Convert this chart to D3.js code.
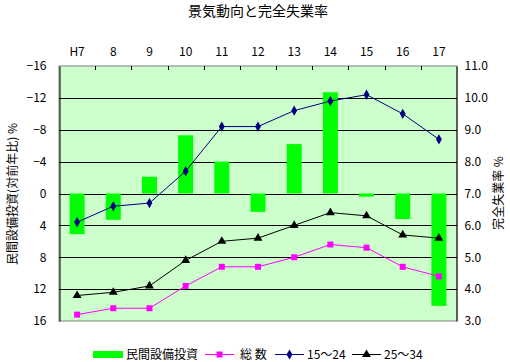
<!DOCTYPE html>
<html>
<head>
<meta charset="utf-8">
<script src="https://cdn.jsdelivr.net/npm/d3@7"></script>
<style>
  body { margin: 0; background: #fff; }
  text { font-family: "Noto Sans CJK JP", "DejaVu Sans", sans-serif; fill: #000; }
</style>
</head>
<body>
<div id="chart"></div>
<script>
// データ
const years = ['H7', '8', '9', '10', '11', '12', '13', '14', '15', '16', '17'];
const investment = [5.1, 3.3, -2.1, -7.3, -4.0, 2.3, -6.2, -12.7, 0.4, 3.2, 14.1];
const total = [3.2, 3.4, 3.4, 4.1, 4.7, 4.7, 5.0, 5.4, 5.3, 4.7, 4.4];
const age15to24 = [6.1, 6.6, 6.7, 7.7, 9.1, 9.1, 9.6, 9.9, 10.1, 9.5, 8.7];
const age25to34 = [3.8, 3.9, 4.1, 4.9, 5.5, 5.6, 6.0, 6.4, 6.3, 5.7, 5.6];
const leftTicks = [-16, -12, -8, -4, 0, 4, 8, 12, 16];
const rightTicks = [3, 4, 5, 6, 7, 8, 9, 10, 11];

const width = 510, height = 362;
const plot = { left: 59, right: 457, top: 66, bottom: 321 };

const svg = d3.select('#chart').append('svg')
  .attr('width', width)
  .attr('height', height);

// スケール
const x = d3.scaleBand().domain(years).range([plot.left, plot.right]).padding(0);
const yL = d3.scaleLinear().domain([-16, 16]).range([plot.top, plot.bottom]);
const yR = d3.scaleLinear().domain([3, 11]).range([plot.bottom, plot.top]);
const cx = d => x(d) + x.bandwidth() / 2;

// タイトル
svg.append('text')
  .attr('x', 258).attr('y', 16)
  .attr('text-anchor', 'middle')
  .style('font-size', '14px')
  .text('景気動向と完全失業率');

// 背景
svg.append('rect')
  .attr('x', plot.left).attr('y', plot.top)
  .attr('width', plot.right - plot.left).attr('height', plot.bottom - plot.top)
  .style('fill', '#ccffcc')
  .style('stroke', '#808080');

// グリッド線
svg.append('g').selectAll('line')
  .data(leftTicks.slice(1, -1))
  .enter().append('line')
  .attr('x1', plot.left).attr('x2', plot.right)
  .attr('y1', d => Math.round(yL(d)) + 0.5).attr('y2', d => Math.round(yL(d)) + 0.5)
  .style('stroke', '#000').style('stroke-width', 1);

// 上側の項目軸
const topAxis = d3.axisTop(x).tickSize(0).tickPadding(10);
const gTop = svg.append('g')
  .attr('transform', `translate(0,${plot.top})`)
  .call(topAxis);
gTop.select('.domain').remove();
gTop.selectAll('text').style('font-size', '12px').style('font-family', '"Noto Sans CJK JP", sans-serif');
svg.append('g').selectAll('line')
  .data(years.slice(1))
  .enter().append('line')
  .attr('x1', d => Math.round(x(d)) + 0.5).attr('x2', d => Math.round(x(d)) + 0.5)
  .attr('y1', plot.top).attr('y2', plot.top + 4)
  .style('stroke', '#000');

// 左軸
const gLeft = svg.append('g')
  .attr('transform', `translate(${plot.left + 0.5},0)`)
  .call(d3.axisLeft(yL).tickValues(leftTicks).tickSize(0).tickPadding(13));
gLeft.select('.domain').style('stroke', '#000');
gLeft.selectAll('text').style('font-size', '12px').style('font-family', '"Noto Sans CJK JP", sans-serif');

// 右軸
const gRight = svg.append('g')
  .attr('transform', `translate(${plot.right - 0.5},0)`)
  .call(d3.axisRight(yR).tickValues(rightTicks).tickSize(0).tickPadding(8).tickFormat(d3.format('.1f')));
gRight.select('.domain').style('stroke', '#000');
gRight.selectAll('text').style('font-size', '12px').style('font-family', '"Noto Sans CJK JP", sans-serif');

// 軸タイトル
svg.append('text')
  .attr('transform', 'translate(17,194) rotate(-90)')
  .attr('text-anchor', 'middle')
  .style('font-size', '12px')
  .text('民間設備投資(対前年比) %');
svg.append('text')
  .attr('transform', 'translate(503,193) rotate(-90)')
  .attr('text-anchor', 'middle')
  .style('font-size', '12px')
  .text('完全失業率 %');

// 棒（民間設備投資）
const barW = 15;
svg.append('g').selectAll('rect')
  .data(years.map((y, i) => ({ year: y, v: investment[i] })))
  .enter().append('rect')
  .attr('x', d => cx(d.year) - barW / 2)
  .attr('y', d => Math.min(yL(0), yL(d.v)))
  .attr('width', barW)
  .attr('height', d => Math.abs(yL(d.v) - yL(0)))
  .style('fill', '#00ff00');

// 折れ線
const series = [
  { name: '総 数', values: total, color: '#ff00ff', marker: 'square' },
  { name: '15～24', values: age15to24, color: '#000080', marker: 'diamond' },
  { name: '25～34', values: age25to34, color: '#000000', marker: 'triangle' }
];
const symbolOf = {
  square: d3.symbol().type(d3.symbolSquare).size(36),
  diamond: d3.symbol().type(d3.symbolDiamond).size(30),
  triangle: d3.symbol().type(d3.symbolTriangle).size(34)
};
const line = d3.line().x(d => cx(d.year)).y(d => yR(d.v));

series.forEach(s => {
  const pts = years.map((y, i) => ({ year: y, v: s.values[i] }));
  svg.append('path')
    .datum(pts)
    .attr('d', line)
    .style('fill', 'none')
    .style('stroke', s.color)
    .style('stroke-width', 1);
  svg.append('g').selectAll('path')
    .data(pts)
    .enter().append('path')
    .attr('transform', d => `translate(${cx(d.year)},${yR(d.v)})`)
    .attr('d', symbolOf[s.marker])
    .style('fill', s.color);
});

// 凡例
const legend = svg.append('g').attr('transform', 'translate(0,354)');
legend.append('rect')
  .attr('x', 93).attr('y', -3).attr('width', 30).attr('height', 7)
  .style('fill', '#00ff00');
legend.append('text')
  .attr('x', 126).attr('y', 4.5)
  .style('font-size', '12px')
  .text('民間設備投資');
const legendPos = [205, 275, 352];
series.forEach((s, i) => {
  const lx = legendPos[i];
  legend.append('line')
    .attr('x1', lx).attr('x2', lx + 29)
    .attr('y1', 0.5).attr('y2', 0.5)
    .style('stroke', s.color);
  legend.append('path')
    .attr('transform', `translate(${lx + 14.5},0.5)`)
    .attr('d', symbolOf[s.marker])
    .style('fill', s.color);
  legend.append('text')
    .attr('x', lx + (i === 0 ? 35 : 32)).attr('y', 4.5)
    .style('font-size', '12px')
    .text(s.name);
});
</script>
</body>
</html>
